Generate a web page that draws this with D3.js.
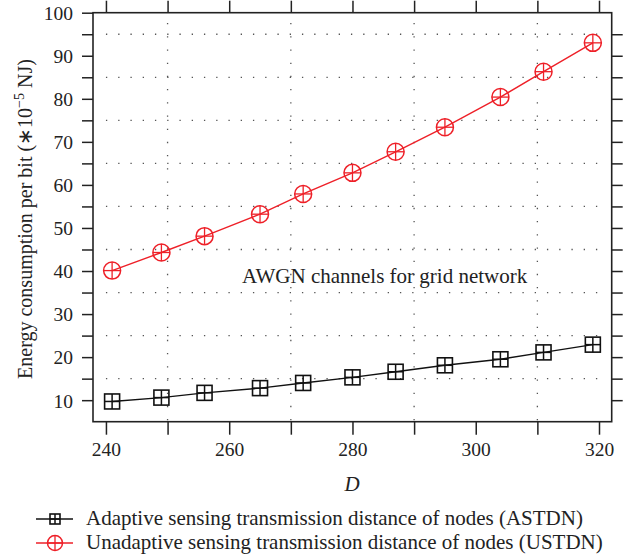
<!DOCTYPE html>
<html><head><meta charset="utf-8">
<script src="https://cdn.jsdelivr.net/npm/d3@7"></script>
<style>body{margin:0;background:#fff;} text{font-family:"Liberation Serif","Times New Roman",serif;fill:#222;}</style>
</head><body>
<svg id="c" width="632" height="559"></svg>
<script>
const dValues = [241, 249, 256, 265, 272, 280, 287, 295, 304, 311, 319];
const astdn = [9.7, 10.6, 11.7, 12.8, 14.0, 15.3, 16.6, 18.1, 19.5, 21.1, 22.9];
const ustdn = [40.1, 44.3, 48.1, 53.2, 57.9, 62.8, 67.7, 73.4, 80.4, 86.3, 93.0];
const xTickLabels = [240, 260, 280, 300, 320];
const yTickLabels = [10, 20, 30, 40, 50, 60, 70, 80, 90, 100];
const seriesNames = ["Adaptive sensing transmission distance of nodes (ASTDN)",
                     "Unadaptive sensing transmission distance of nodes (USTDN)"];
const annotation = "AWGN channels for grid network";

const svg = d3.select("#c");
const L = 93, R = 611.7, T = 12.7, B = 421.7;
const x = d3.scaleLinear().domain([237.9, 322.06]).range([L, R]);
const y = d3.scaleLinear().domain([5, 100]).range([B, T]);
const axisColor = "#222";
const red = "#ee2028";

// grid
const gridH = d3.range(15, 100, 10);
const gridV = [250, 270, 290, 310];
svg.append("g").selectAll("line").data(gridH).join("line")
  .attr("x1", x(240)).attr("x2", x(320.5)).attr("y1", d => y(d)).attr("y2", d => y(d))
  .attr("stroke", "#555").attr("stroke-width", 1.3).attr("stroke-dasharray", "1.3,10.95");
svg.append("g").selectAll("line").data(gridV).join("line")
  .attr("x1", d => x(d)).attr("x2", d => x(d)).attr("y1", y(97.6)).attr("y2", B)
  .attr("stroke", "#555").attr("stroke-width", 1.3).attr("stroke-dasharray", "1.3,11.9");

// axes
const xTicks = d3.range(240, 321, 10);
const yTicks = d3.range(10, 101, 5);
const ax = svg.append("g").attr("transform", `translate(0,${B})`)
  .call(d3.axisBottom(x).tickValues(xTicks).tickSize(13).tickSizeOuter(0)
    .tickFormat(d => xTickLabels.includes(d) ? d : ""));
const ay = svg.append("g").attr("transform", `translate(${L},0)`)
  .call(d3.axisLeft(y).tickValues(yTicks).tickSize(11).tickSizeOuter(0)
    .tickFormat(d => yTickLabels.includes(d) ? d : ""));
const at = svg.append("g").attr("transform", `translate(0,${T})`)
  .call(d3.axisTop(x).tickValues(xTicks).tickSize(12).tickSizeOuter(0).tickFormat(""));
const ar = svg.append("g").attr("transform", `translate(${R},0)`)
  .call(d3.axisRight(y).tickValues(d3.range(10, 100, 5)).tickSize(11).tickSizeOuter(0).tickFormat(""));
[ax, ay, at, ar].forEach(g => {
  g.selectAll("path.domain").remove();
  g.selectAll("line").attr("stroke", axisColor).attr("stroke-width", 1.5);
  g.selectAll("text").style("font-family", '"Liberation Serif",serif').style("font-size", "19.5px").attr("fill", "#222");
});
ax.selectAll("text").attr("dy", null).attr("y", 34);
ay.selectAll("text").attr("x", -20).attr("dy", "0.35em");
// frame
svg.append("rect").attr("x", L).attr("y", T).attr("width", R - L).attr("height", B - T)
  .attr("fill", "none").attr("stroke", axisColor).attr("stroke-width", 1.6);

// lines
const line = d3.line().x((d, i) => x(dValues[i])).y(d => y(d));
svg.append("path").datum(astdn).attr("d", line).attr("fill", "none").attr("stroke", "#111").attr("stroke-width", 1.4);
svg.append("path").datum(ustdn).attr("d", line).attr("fill", "none").attr("stroke", red).attr("stroke-width", 1.4);

function squareMarker(g, cx, cy, s, color) {
  g.append("rect").attr("x", cx - s / 2).attr("y", cy - s / 2).attr("width", s).attr("height", s)
    .attr("fill", "none").attr("stroke", color).attr("stroke-width", 1.6);
  g.append("line").attr("x1", cx).attr("x2", cx).attr("y1", cy - s / 2).attr("y2", cy + s / 2).attr("stroke", color).attr("stroke-width", 1.5);
  g.append("line").attr("x1", cx - s / 2).attr("x2", cx + s / 2).attr("y1", cy).attr("y2", cy).attr("stroke", color).attr("stroke-width", 1.5);
}
function circleMarker(g, cx, cy, r, color) {
  g.append("circle").attr("cx", cx).attr("cy", cy).attr("r", r)
    .attr("fill", "none").attr("stroke", color).attr("stroke-width", 1.5);
  g.append("line").attr("x1", cx).attr("x2", cx).attr("y1", cy - r).attr("y2", cy + r).attr("stroke", color).attr("stroke-width", 1.3);
  g.append("line").attr("x1", cx - r).attr("x2", cx + r).attr("y1", cy).attr("y2", cy).attr("stroke", color).attr("stroke-width", 1.3);
}
const mk = svg.append("g");
astdn.forEach((v, i) => squareMarker(mk, x(dValues[i]), y(v), 15, "#111"));
ustdn.forEach((v, i) => circleMarker(mk, x(dValues[i]), y(v), 8.5, red));

// annotation
svg.append("text").attr("x", 242).attr("y", 282.5).style("font-size", "21px").text(annotation);

// axis titles
svg.append("text").attr("x", 352).attr("y", 491).attr("text-anchor", "middle")
  .style("font-size", "21px").style("font-style", "italic").text("D");
const yl = svg.append("text").attr("transform", `translate(32,219) rotate(-90)`)
  .attr("text-anchor", "middle").style("font-size", "20px");
yl.append("tspan").text("Energy consumption per bit (∗10");
yl.append("tspan").attr("dy", -8).style("font-size", "14px").text("−5");
yl.append("tspan").attr("dy", 8).text(" NJ)");

// legend
const lg = svg.append("g");
const rows = [519, 543];
lg.append("line").attr("x1", 36).attr("x2", 73).attr("y1", rows[0]).attr("y2", rows[0]).attr("stroke", "#111").attr("stroke-width", 1.4);
squareMarker(lg, 55, rows[0], 10, "#111");
lg.append("line").attr("x1", 36).attr("x2", 73).attr("y1", rows[1]).attr("y2", rows[1]).attr("stroke", red).attr("stroke-width", 1.4);
circleMarker(lg, 55, rows[1], 7.5, red);
seriesNames.forEach((n, i) => lg.append("text").attr("x", 86).attr("y", rows[i] + 6).style("font-size", "21px").text(n));
</script>
</body></html>
